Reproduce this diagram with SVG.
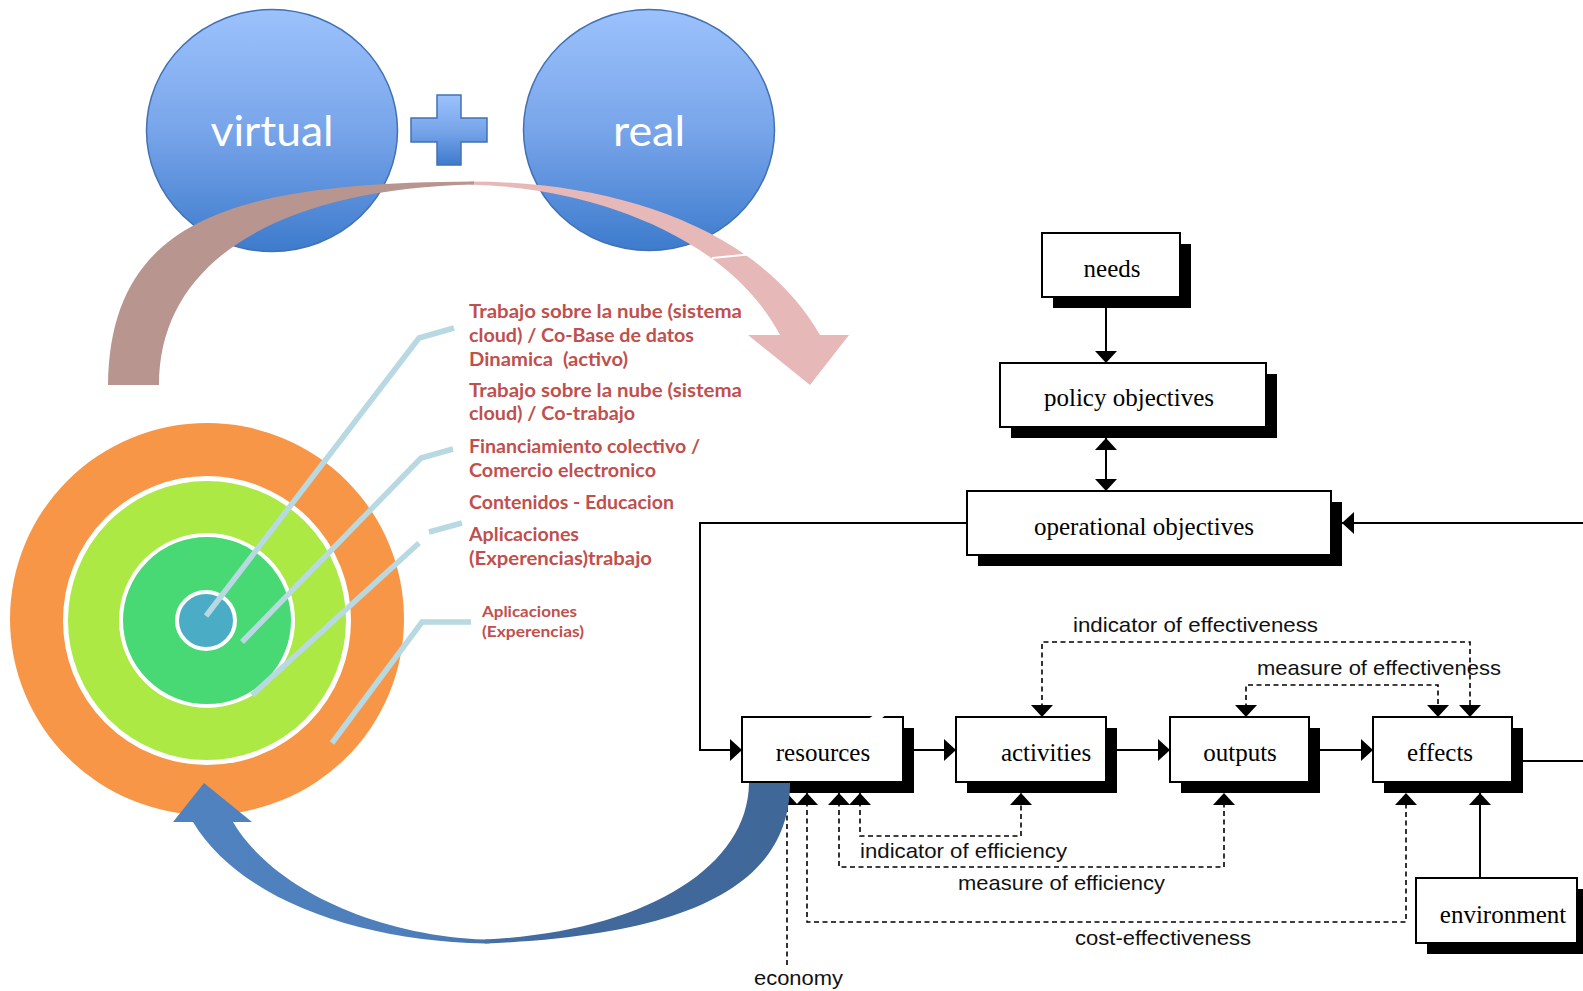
<svg xmlns="http://www.w3.org/2000/svg" width="1583" height="991" viewBox="0 0 1583 991">
<defs>
<linearGradient id="gBall" x1="0" y1="0" x2="0" y2="1">
<stop offset="0" stop-color="#9CC2FC"/>
<stop offset="0.5" stop-color="#78A5EA"/>
<stop offset="1" stop-color="#3D7BCC"/>
</linearGradient>
<linearGradient id="gBlueL" gradientUnits="userSpaceOnUse" x1="193" y1="0" x2="490" y2="0">
<stop offset="0" stop-color="#4F82BF"/>
<stop offset="0.7" stop-color="#4E7FBB"/>
<stop offset="1" stop-color="#4874AC"/>
</linearGradient>
<linearGradient id="gBlueR" gradientUnits="userSpaceOnUse" x1="485" y1="0" x2="790" y2="0">
<stop offset="0" stop-color="#466FA5"/>
<stop offset="0.3" stop-color="#42699C"/>
<stop offset="1" stop-color="#3F6798"/>
</linearGradient>
<marker id="ah" markerUnits="userSpaceOnUse" markerWidth="14" markerHeight="24" refX="12" refY="11" orient="auto-start-reverse" overflow="visible">
<path d="M0,0 L12,11 L0,22 Z" fill="#000"/>
</marker>
<style>
.ball{fill:url(#gBall);stroke:#4271B3;stroke-width:1.5}
.big{font-family:Lato,"Open Sans",sans-serif;font-size:42px;fill:#fff;text-anchor:middle}
.lbl{font-family:Lato,"Open Sans",sans-serif;font-weight:700;font-size:19px;fill:#C0504D}
.lbls{font-size:16px}
.leader{fill:none;stroke:#B8D8E2;stroke-width:5.5}
.shadow{fill:#000}
.box{fill:#fff;stroke:#000;stroke-width:2}
.bt{font-family:"Liberation Serif","Times New Roman",serif;font-size:25px;text-anchor:middle;fill:#000}
.ln{fill:none;stroke:#000;stroke-width:2}
.dl{fill:none;stroke:#000;stroke-width:1.6;stroke-dasharray:5 3.5}
.dt{font-family:"Liberation Sans",Arial,sans-serif;font-size:21px;text-anchor:middle;fill:#111}
</style>
</defs>
<rect width="1583" height="991" fill="#fff"/>

<g id="virtual">
<ellipse class="ball" cx="272" cy="130.5" rx="125.5" ry="121"/>
<text class="big" x="272" y="146" textLength="123" lengthAdjust="spacingAndGlyphs">virtual</text>
</g>
<g id="plus">
<path class="ball" d="M437,95 H461 V118 H487 V142 H461 V165 H437 V142 H411 V118 H437 Z"/>
</g>
<g id="real">
<ellipse class="ball" cx="649" cy="130" rx="125.5" ry="120.5"/>
<text class="big" x="649" y="146" textLength="72" lengthAdjust="spacingAndGlyphs">real</text>
</g>

<g id="pink-arrow">
<path d="M470,181.5 C620,181.5 760,230 820,335 L849,335 L810,385 L748,335 L780,335 C730,240 600,188 470,184.5 Z" fill="#E6B8B7"/>
<path d="M108,385 C110,215 240,183 474,181.5 L474,184.5 C280,189 159,260 159,385 Z" fill="#B8958F"/>
<line x1="712" y1="258" x2="753" y2="254" stroke="#fff" stroke-width="2"/>
</g>

<g id="rings">
<ellipse cx="207" cy="619" rx="197" ry="196" fill="#F79646"/>
<ellipse cx="207" cy="620.5" rx="141.5" ry="142" fill="#ACE945" stroke="#fff" stroke-width="5"/>
<ellipse cx="207" cy="620.5" rx="86" ry="85.5" fill="#48D874" stroke="#fff" stroke-width="4"/>
<ellipse cx="206" cy="620.5" rx="29" ry="28.5" fill="#4BACC6" stroke="#fff" stroke-width="4"/>
</g>

<g id="leaders">
<polyline class="leader" points="206,616 419,338 454,328"/>
<polyline class="leader" points="242,642 421,458 453,449"/>
<polyline class="leader" points="252,695 419,543"/>
<line class="leader" x1="429" y1="532" x2="462" y2="523"/>
<polyline class="leader" points="332,743 422,622 471,622"/>
</g>

<g id="labels">
<text class="lbl" x="469" y="318" textLength="273" lengthAdjust="spacingAndGlyphs">Trabajo sobre la nube (sistema</text>
<text class="lbl" x="469" y="342" textLength="225" lengthAdjust="spacingAndGlyphs">cloud) / Co-Base de datos</text>
<text class="lbl" x="469" y="366" textLength="159" lengthAdjust="spacingAndGlyphs" style="white-space:pre">Dinamica  (activo)</text>
<text class="lbl" x="469" y="397" textLength="273" lengthAdjust="spacingAndGlyphs">Trabajo sobre la nube (sistema</text>
<text class="lbl" x="469" y="420" textLength="166" lengthAdjust="spacingAndGlyphs">cloud) / Co-trabajo</text>
<text class="lbl" x="469" y="453" textLength="231" lengthAdjust="spacingAndGlyphs">Financiamiento colectivo /</text>
<text class="lbl" x="469" y="476.5" textLength="187" lengthAdjust="spacingAndGlyphs">Comercio electronico</text>
<text class="lbl" x="469" y="509" textLength="205" lengthAdjust="spacingAndGlyphs">Contenidos - Educacion</text>
<text class="lbl" x="469" y="541" textLength="110" lengthAdjust="spacingAndGlyphs">Aplicaciones</text>
<text class="lbl" x="469" y="564.5" textLength="183" lengthAdjust="spacingAndGlyphs">(Experencias)trabajo</text>
<text class="lbl lbls" x="482" y="617" textLength="95" lengthAdjust="spacingAndGlyphs">Aplicaciones</text>
<text class="lbl lbls" x="482" y="637" textLength="102" lengthAdjust="spacingAndGlyphs">(Experencias)</text>
</g>

<g id="needs">
<rect class="shadow" x="1053" y="244" width="138" height="64"/>
<rect class="box" x="1042" y="233" width="138" height="64"/>
<text class="bt" x="1112" y="277">needs</text>
</g>
<g id="policy-objectives">
<rect class="shadow" x="1011" y="374" width="266" height="64"/>
<rect class="box" x="1000" y="363" width="266" height="64"/>
<text class="bt" x="1129" y="406">policy objectives</text>
</g>
<g id="operational-objectives">
<rect class="shadow" x="978" y="502" width="364" height="64"/>
<rect class="box" x="967" y="491" width="364" height="64"/>
<text class="bt" x="1144" y="535">operational objectives</text>
</g>
<g id="resources">
<rect class="shadow" x="753" y="728" width="161" height="65"/>
<rect class="box" x="742" y="717" width="161" height="65"/>
<polygon points="868,719 877,713 888,713 881,719" fill="#fff"/>
<text class="bt" x="823" y="761">resources</text>
</g>
<g id="activities">
<rect class="shadow" x="967" y="728" width="150" height="65"/>
<rect class="box" x="956" y="717" width="150" height="65"/>
<text class="bt" x="1046" y="761">activities</text>
</g>
<g id="outputs">
<rect class="shadow" x="1181" y="728" width="139" height="65"/>
<rect class="box" x="1170" y="717" width="139" height="65"/>
<text class="bt" x="1240" y="761">outputs</text>
</g>
<g id="effects">
<rect class="shadow" x="1384" y="728" width="139" height="65"/>
<rect class="box" x="1373" y="717" width="139" height="65"/>
<text class="bt" x="1440" y="761">effects</text>
</g>
<g id="environment">
<rect class="shadow" x="1427" y="889" width="161" height="65"/>
<rect class="box" x="1416" y="878" width="161" height="65"/>
<text class="bt" x="1503" y="923">environment</text>
</g>

<g id="connectors">
<path class="ln" d="M1106,308 V363" marker-end="url(#ah)"/>
<path class="ln" d="M1106,438 V491" marker-start="url(#ah)" marker-end="url(#ah)"/>
<path class="ln" d="M967,523 H700 V750 H742" marker-end="url(#ah)"/>
<path class="ln" d="M1583,523 H1342" marker-end="url(#ah)"/>
<path class="ln" d="M914,750 H956" marker-end="url(#ah)"/>
<path class="ln" d="M1117,750 H1170" marker-end="url(#ah)"/>
<path class="ln" d="M1320,750 H1373" marker-end="url(#ah)"/>
<path class="ln" d="M1523,761 H1583"/>
<path class="ln" d="M1480,878 V793" marker-end="url(#ah)"/>
<path class="dl" d="M1042,717 V642 H1470 V717" marker-start="url(#ah)" marker-end="url(#ah)"/>
<path class="dl" d="M1246,717 V685 H1438 V717" marker-start="url(#ah)" marker-end="url(#ah)"/>
<path class="dl" d="M860,793 V836 H1021 V793" marker-start="url(#ah)" marker-end="url(#ah)"/>
<path class="dl" d="M839,793 V867 H1224 V793" marker-start="url(#ah)" marker-end="url(#ah)"/>
<path class="dl" d="M807,793 V922 H1406 V793" marker-start="url(#ah)" marker-end="url(#ah)"/>
<path class="dl" d="M787,965 V793" marker-end="url(#ah)"/>
<text class="dt" x="1195.5" y="632" textLength="245" lengthAdjust="spacingAndGlyphs">indicator of effectiveness</text>
<text class="dt" x="1379" y="675" textLength="244" lengthAdjust="spacingAndGlyphs">measure of effectiveness</text>
<text class="dt" x="963.5" y="858" textLength="207" lengthAdjust="spacingAndGlyphs">indicator of efficiency</text>
<text class="dt" x="1061.5" y="890" textLength="207" lengthAdjust="spacingAndGlyphs">measure of efficiency</text>
<text class="dt" x="1163" y="945" textLength="176" lengthAdjust="spacingAndGlyphs">cost-effectiveness</text>
<text class="dt" x="798.5" y="985" textLength="89" lengthAdjust="spacingAndGlyphs">economy</text>
</g>

<g id="blue-arrow">
<path d="M749,783 L790,783 C790,880 700,935 485,943.5 L485,939.5 C640,932 748,870 749,783 Z" fill="url(#gBlueR)"/>
<path d="M490,943.3 L485,943.5 C360,941 240,900 193,822 L173,822 L204,783 L252,822 L233,822 C270,885 370,935 485,939.5 L490,939.4 Z" fill="url(#gBlueL)"/>
</g>
</svg>
